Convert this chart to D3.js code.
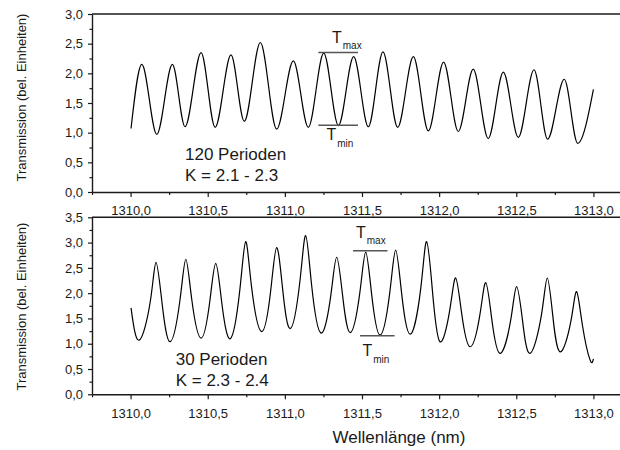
<!DOCTYPE html>
<html><head><meta charset="utf-8">
<script src="https://cdn.jsdelivr.net/npm/d3@7"></script>
<style>
html,body{margin:0;padding:0;background:#fff;}
svg{display:block;font-family:"Liberation Sans",Arial,sans-serif;}
</style></head><body>
<svg id="chart" width="620" height="450"></svg>
<script>
// ---- data ----
const xTickValues = [1310.0, 1310.5, 1311.0, 1311.5, 1312.0, 1312.5, 1313.0];
const xMinorTickValues = [1309.75, 1310.25, 1310.75, 1311.25, 1311.75, 1312.25, 1312.75, 1313.25];
const topYTickValues = [0, 0.5, 1.0, 1.5, 2.0, 2.5, 3.0];
const topYMinorTickValues = [0.25, 0.75, 1.25, 1.75, 2.25, 2.75];
const bottomYTickValues = [0, 0.5, 1.0, 1.5, 2.0, 2.5, 3.0, 3.5];
const bottomYMinorTickValues = [0.25, 0.75, 1.25, 1.75, 2.25, 2.75, 3.25];

// 120 Perioden: maxima / minima
const topWavelength = [
  1310.003, 1310.073, 1310.170, 1310.271, 1310.353, 1310.457, 1310.548, 1310.651,
  1310.737, 1310.841, 1310.947, 1311.055, 1311.152, 1311.252, 1311.347, 1311.446,
  1311.541, 1311.636, 1311.731, 1311.833, 1311.930, 1312.029, 1312.124, 1312.221,
  1312.318, 1312.416, 1312.513, 1312.615, 1312.703, 1312.811, 1312.898, 1313.000
];
const topTransmission = [
  1.07, 2.15, 0.97, 2.15, 1.10, 2.35, 1.09, 2.31,
  1.19, 2.52, 1.06, 2.21, 1.09, 2.34, 1.12, 2.28,
  1.10, 2.36, 1.09, 2.28, 1.03, 2.19, 1.02, 2.07,
  0.90, 2.02, 0.92, 2.06, 0.89, 1.90, 0.82, 1.73
];

// 30 Perioden: extrema plus half-height flank points
const bottomWavelength = [
  1310.003, 1310.055, 1310.128, 1310.165, 1310.203, 1310.256, 1310.320, 1310.358,
  1310.396, 1310.457, 1310.514, 1310.552, 1310.590, 1310.646, 1310.708, 1310.746,
  1310.784, 1310.850, 1310.909, 1310.947, 1310.985, 1311.035, 1311.097, 1311.135,
  1311.173, 1311.234, 1311.298, 1311.336, 1311.374, 1311.424, 1311.486, 1311.524,
  1311.562, 1311.617, 1311.680, 1311.718, 1311.756, 1311.813, 1311.881, 1311.919,
  1311.957, 1312.005, 1312.069, 1312.107, 1312.145, 1312.200, 1312.264, 1312.302,
  1312.340, 1312.394, 1312.464, 1312.502, 1312.540, 1312.589, 1312.663, 1312.701,
  1312.736, 1312.783, 1312.853, 1312.891, 1312.929, 1312.978, 1313.000
];
const bottomTransmission = [
  1.71, 1.07, 1.84, 2.61, 1.83, 1.04, 1.86, 2.67,
  1.89, 1.11, 1.85, 2.59, 1.84, 1.10, 2.06, 3.02,
  2.13, 1.24, 2.07, 2.90, 2.10, 1.30, 2.22, 3.14,
  2.17, 1.21, 1.96, 2.71, 1.96, 1.22, 2.01, 2.81,
  1.99, 1.17, 2.01, 2.85, 2.02, 1.19, 2.10, 3.02,
  2.03, 1.04, 1.67, 2.30, 1.62, 0.94, 1.57, 2.21,
  1.51, 0.81, 1.47, 2.13, 1.47, 0.81, 1.57, 2.30,
  1.57, 0.84, 1.43, 2.03, 1.36, 0.68, 0.70
];

// annotation marks: [x0, x1, level]
const topTmax = [1311.217, 1311.474, 2.35];
const topTmin = [1311.217, 1311.474, 1.124];
const bottomTmax = [1311.442, 1311.665, 2.84];
const bottomTmin = [1311.487, 1311.711, 1.158];

const topLabels = ["120 Perioden", "K = 2.1 - 2.3"];
const bottomLabels = ["30 Perioden", "K = 2.3 - 2.4"];
const yTitle = "Transmission (bel. Einheiten)";
const xTitle = "Wellenlänge (nm)";

// ---- drawing ----
const svg = d3.select("#chart");
const locale = d3.formatLocale({decimal: ",", thousands: ".", grouping: [3], currency: ["", "€"]});
const fmt = locale.format(".1f");
const ink = "#1a1a1a";

const x = d3.scaleLinear().domain([1309.75, 1313.25]).range([92, 632]);

function panel(opts) {
  const y = d3.scaleLinear().domain(opts.yDomain).range([opts.y0, opts.y1]);
  const g = svg.append("g");

  g.append("g").attr("transform", `translate(0,${opts.y0})`)
    .call(d3.axisBottom(x).tickValues(xMinorTickValues).tickSize(3).tickSizeOuter(0).tickFormat(""))
    .call(a => a.select(".domain").remove());
  const ax = g.append("g").attr("transform", `translate(0,${opts.y0})`)
    .call(d3.axisBottom(x).tickValues(xTickValues).tickSize(5).tickSizeOuter(0).tickPadding(8).tickFormat(fmt));
  ax.select(".domain").attr("stroke", ink).attr("stroke-width", 1.4);
  ax.selectAll("text").attr("font-size", 13).attr("fill", ink)
    .attr("dy", null).attr("y", opts.xLabelDy);

  g.append("g").attr("transform", `translate(${x(1309.75)},0)`)
    .call(d3.axisLeft(y).tickValues(opts.yMinor).tickSize(2.5).tickSizeOuter(0).tickFormat(""))
    .call(a => a.select(".domain").remove());
  const ay = g.append("g").attr("transform", `translate(${x(1309.75)},0)`)
    .call(d3.axisLeft(y).tickValues(opts.yMajor).tickSize(4).tickSizeOuter(0).tickPadding(5).tickFormat(fmt));
  ay.select(".domain").attr("stroke", ink).attr("stroke-width", 1.4);
  ay.selectAll("text").attr("font-size", 13).attr("fill", ink);
  g.selectAll(".tick line").attr("stroke", ink).attr("stroke-width", 1.2);

  g.append("line").attr("x1", x(1309.75)).attr("x2", x(1313.25))
    .attr("y1", y(opts.yDomain[1])).attr("y2", y(opts.yDomain[1]))
    .attr("stroke", ink).attr("stroke-width", 1.4);

  const pts = opts.wl.map((w, i) => [w, opts.tr[i]]);
  g.append("path").datum(pts)
    .attr("fill", "none").attr("stroke", "#000").attr("stroke-width", 1.2)
    .attr("stroke-linejoin", "round")
    .attr("d", d3.line().x(d => x(d[0])).y(d => y(d[1])).curve(opts.curve));

  [opts.tmax, opts.tmin].forEach(m => {
    g.append("line").attr("x1", x(m[0])).attr("x2", x(m[1]))
      .attr("y1", y(m[2])).attr("y2", y(m[2]))
      .attr("stroke", "#555").attr("stroke-width", 1.4);
  });
  function tlabel(px, py, sub, subDx, subDy) {
    const t = g.append("text").attr("x", px).attr("y", py).attr("fill", ink).attr("font-size", 16);
    t.append("tspan").text("T");
    t.append("tspan").attr("font-size", 10).attr("dx", subDx).attr("dy", subDy).text(sub);
  }
  tlabel(opts.tmaxLabel[0], opts.tmaxLabel[1], "max", 1, 6);
  tlabel(opts.tminLabel[0], opts.tminLabel[1], "min", 1, 7);

  g.append("text").attr("x", opts.info[0]).attr("y", opts.info[1])
    .attr("font-size", 17).attr("fill", ink).text(opts.labels[0]);
  g.append("text").attr("x", opts.info[0]).attr("y", opts.info[1] + 21)
    .attr("font-size", 17).attr("fill", ink).text(opts.labels[1]);

  g.append("text")
    .attr("transform", `translate(26,${opts.titleY}) rotate(-90)`)
    .attr("text-anchor", "middle").attr("font-size", 13).attr("fill", ink)
    .text(yTitle);
}

panel({
  yDomain: [0, 3], y0: 192, y1: 14,
  yMajor: topYTickValues, yMinor: topYMinorTickValues,
  wl: topWavelength, tr: topTransmission, curve: d3.curveMonotoneX,
  tmax: topTmax, tmin: topTmin,
  tmaxLabel: [332, 43.3], tminLabel: [326.5, 140],
  info: [185, 160], labels: topLabels, titleY: 97.5, xLabelDy: 22.5
});
panel({
  yDomain: [0, 3.5], y0: 394.3, y1: 217.3,
  yMajor: bottomYTickValues, yMinor: bottomYMinorTickValues,
  wl: bottomWavelength, tr: bottomTransmission, curve: d3.curveNatural,
  tmax: bottomTmax, tmin: bottomTmin,
  tmaxLabel: [356, 238.3], tminLabel: [362.5, 355.7],
  info: [175.7, 365], labels: bottomLabels, titleY: 306.5, xLabelDy: 24
});

svg.append("text").attr("x", 399).attr("y", 443).attr("text-anchor", "middle")
  .attr("font-size", 17).attr("fill", ink).text(xTitle);
</script>
</body></html>
